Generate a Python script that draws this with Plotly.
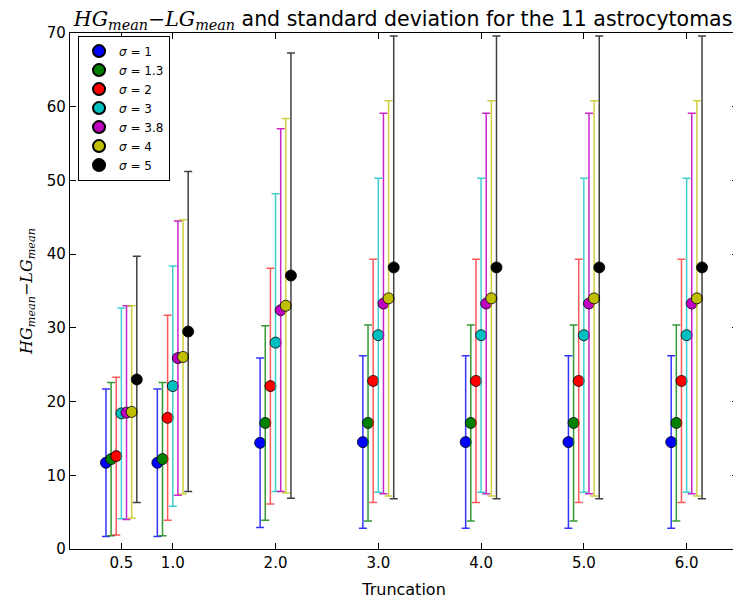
import plotly.graph_objects as go

truncation = [0.5, 1.0, 2.0, 3.0, 4.0, 5.0, 6.0]
tick_labels = ["0.5", "1.0", "2.0", "3.0", "4.0", "5.0", "6.0"]
sigma_labels = ["1", "1.3", "2", "3", "3.8", "4", "5"]

mean_s1 = [11.7, 11.7, 14.4, 14.5, 14.5, 14.5, 14.5]
std_s1 = [10.0, 10.0, 11.5, 11.7, 11.7, 11.7, 11.7]
mean_s13 = [12.2, 12.2, 17.1, 17.1, 17.1, 17.1, 17.1]
std_s13 = [10.4, 10.4, 13.2, 13.3, 13.3, 13.3, 13.3]
mean_s2 = [12.6, 17.8, 22.1, 22.8, 22.8, 22.8, 22.8]
std_s2 = [10.7, 13.9, 16.0, 16.5, 16.5, 16.5, 16.5]
mean_s3 = [18.4, 22.1, 28.0, 29.0, 29.0, 29.0, 29.0]
std_s3 = [14.3, 16.3, 20.2, 21.3, 21.3, 21.3, 21.3]
mean_s38 = [18.5, 25.9, 32.4, 33.3, 33.3, 33.3, 33.3]
std_s38 = [14.5, 18.6, 24.6, 25.8, 25.8, 25.8, 25.8]
mean_s4 = [18.6, 26.05, 33.0, 34.0, 34.0, 34.0, 34.0]
std_s4 = [14.4, 18.6, 25.4, 26.8, 26.8, 26.8, 26.8]
mean_s5 = [23.0, 29.5, 37.1, 38.2, 38.2, 38.2, 38.2]
std_s5 = [16.7, 21.7, 30.2, 31.4, 31.4, 31.4, 31.4]

means = [mean_s1, mean_s13, mean_s2, mean_s3, mean_s38, mean_s4, mean_s5]
stds = [std_s1, std_s13, std_s2, std_s3, std_s38, std_s4, std_s5]

colors = ["#0000FF", "#008000", "#FF0000", "#00BFBF", "#BF00BF", "#BFBF00", "#000000"]
bar_colors = ["rgba(0,0,255,0.8)", "rgba(0,128,0,0.8)", "rgba(255,0,0,0.65)",
              "rgba(0,191,191,0.75)", "rgba(191,0,191,0.85)", "rgba(191,191,0,0.75)",
              "rgba(0,0,0,0.75)"]

fig = go.Figure()
n = len(sigma_labels)
for i in range(n):
    off = (i - (n - 1) / 2) * 0.05
    fig.add_trace(go.Scatter(
        x=[t + off for t in truncation],
        y=means[i],
        mode="markers",
        name="<i>σ</i> = " + sigma_labels[i],
        marker=dict(color=colors[i], size=11, line=dict(color="black", width=0.8)),
        error_y=dict(type="data", array=stds[i], visible=True,
                     color=bar_colors[i], thickness=1.5, width=4),
    ))

math_title = ("<span style='font-family:\"DejaVu Serif\", serif'><i>HG</i><sub><i>mean</i></sub>"
              "−<i>LG</i><sub><i>mean</i></sub></span>")

# page body has an 8px margin; figure is sized/offset to compensate
fig.update_layout(
    width=733, height=598,
    margin=dict(l=62, r=3, t=25, b=57),
    paper_bgcolor="white", plot_bgcolor="white",
    font=dict(family="DejaVu Sans", size=15, color="black"),
    title=dict(text=math_title + " and standard deviation for the 11 astrocytomas",
               x=0.539, xanchor="center", y=0.994, yanchor="top", yref="container",
               font=dict(size=20.5, family="DejaVu Sans", color="black")),
    showlegend=True,
    legend=dict(x=0.012, y=0.995, xanchor="left", yanchor="top",
                bgcolor="white", bordercolor="black", borderwidth=1,
                font=dict(size=12, family="DejaVu Sans"),
                tracegroupgap=0, itemsizing="constant", itemwidth=30),
)
fig.update_xaxes(
    range=[0, 6.5], tickmode="array", tickvals=truncation, ticktext=tick_labels,
    ticks="inside", ticklen=6, tickcolor="black", mirror="allticks",
    showline=True, linecolor="black", linewidth=1.2, showgrid=False, zeroline=False,
    title=dict(text="Truncation", font=dict(size=16), standoff=12),
    tickfont=dict(size=15),
)
fig.update_yaxes(
    range=[0, 70], tickmode="linear", tick0=0, dtick=10,
    ticks="inside", ticklen=6, tickcolor="black", mirror="allticks",
    showline=True, linecolor="black", linewidth=1.2, showgrid=False, zeroline=False,
    title=dict(text=math_title, font=dict(size=16), standoff=10),
    tickfont=dict(size=15),
)

fig.write_html("out.html")
